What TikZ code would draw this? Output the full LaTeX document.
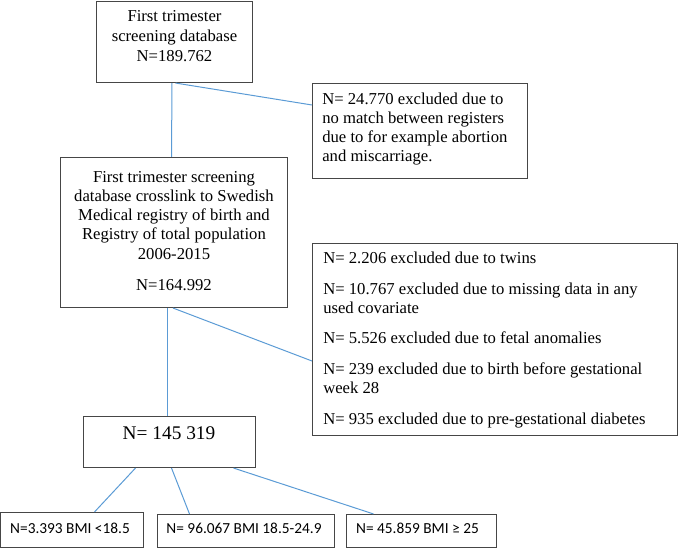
\documentclass[tikz,border=0pt]{standalone}
\usepackage{fontspec}
\setmainfont{Liberation Serif}
\newfontfamily\calibri{Carlito}
\usetikzlibrary{fit,calc}
\definecolor{linkblue}{RGB}{91,155,213}
\definecolor{framegray}{RGB}{70,70,70}
\tikzset{
  frame/.style={draw=framegray, line width=0.8pt, inner sep=0pt},
  link/.style={draw=linkblue, line width=0.75pt},
  txt/.style={inner sep=0pt, font=\fontsize{12.5}{14.4}\selectfont},
  sans/.style={inner sep=0pt, font=\calibri\fontsize{11.5}{13}\selectfont},
}
\begin{document}
\begin{tikzpicture}[x=0.75pt,y=-0.75pt]
\useasboundingbox (0,0) rectangle (679,549);
% frames
\node[frame, fit={(96.5,1.5) (252.5,82.5)}] (b1) {};
\node[frame, fit={(312.5,83.5) (527.5,178.5)}] (e1) {};
\node[frame, fit={(60.5,157.5) (287.5,307.5)}] (b2) {};
\node[frame, fit={(312.5,243.5) (677.5,435.5)}] (e2) {};
\node[frame, fit={(83.5,416.5) (255.5,467.5)}] (b3) {};
\node[frame, fit={(0.5,512.5) (143.5,547.5)}] (bA) {};
\node[frame, fit={(157.5,514.5) (334.5,547.5)}] (bB) {};
\node[frame, fit={(346.5,514.5) (496.5,547.5)}] (bC) {};
% texts
\node[txt, align=center, font=\fontsize{12.5}{15}\selectfont] (t1) at (174.5,36.5) {First trimester\\screening database\\N=189.762};
\node[txt, align=left, anchor=west] (t2) at (322,129) {N= 24.770 excluded due to\\no match between registers\\due to for example abortion\\and miscarriage.};
\node[txt, align=center] (t3) at (174,231) {First trimester screening\\database crosslink to Swedish\\Medical registry of birth and\\Registry of total population\\2006-2015\\[9pt]N=164.992};
\node[txt, align=left, anchor=west] (t4) at (323,340) {N= 2.206 excluded due to twins\\[8.5pt]N= 10.767 excluded due to missing data in any\\used covariate\\[8.5pt]N= 5.526 excluded due to fetal anomalies\\[8.5pt]N= 239 excluded due to birth before gestational\\week 28\\[8.5pt]N= 935 excluded due to pre-gestational diabetes};
\node[txt, font=\fontsize{14.5}{16}\selectfont] (t5) at (169,433) {N= 145 319};
\node[sans] (tA) at (70,528) {N=3.393 BMI <18.5};
\node[sans] (tB) at (244,528) {N= 96.067 BMI 18.5-24.9};
\node[sans] (tC) at (417.5,528) {N= 45.859 BMI ≥ 25};
% connectors
\draw[link] ($(b1.south)+(-2.5,0)$) -- ($(b2.north)+(-2.5,0)$);
\draw[link] ($(b1.south)+(1,0)$) -- ($(e1.west)+(0,-26)$);
\draw[link] ($(b2.south)+(-6.5,0)$) -- ($(b3.north)+(-2,0)$);
\draw[link] ($(b2.south)+(-1,0)$) -- ($(e2.west)+(0,21.5)$);
\draw[link] ($(b3.south)+(-34,0)$) -- ($(bA.north)+(22.5,0)$);
\draw[link] ($(b3.south)+(2,0)$) -- ($(bB.north)+(-56.5,0)$);
\draw[link] ($(b3.south)+(64,0)$) -- ($(bC.north)+(-48,0)$);
\end{tikzpicture}
\end{document}
